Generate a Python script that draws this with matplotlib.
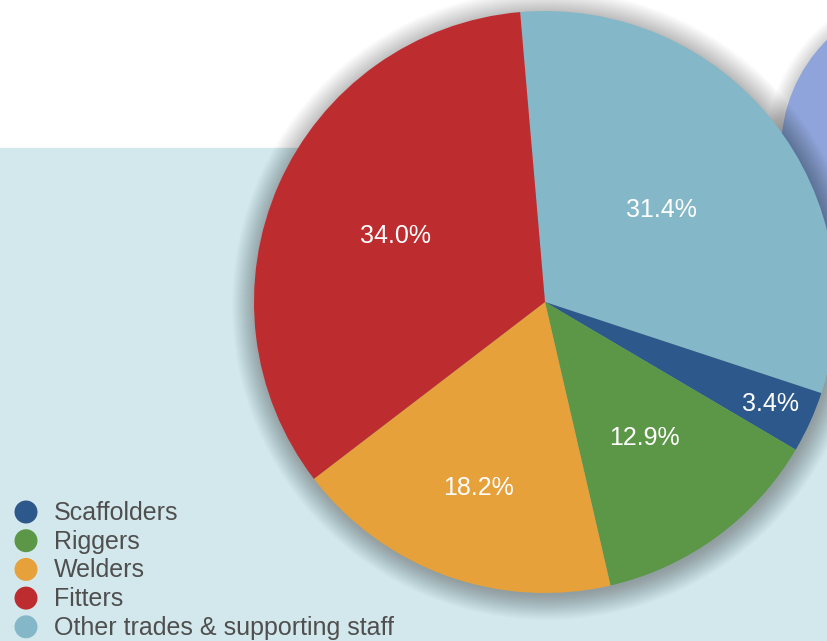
import numpy as np
import matplotlib.pyplot as plt
from matplotlib.patches import Circle, Rectangle

labels = ["Other trades & supporting staff", "Scaffolders", "Riggers", "Welders", "Fitters"]
shares = [31.4, 3.4, 12.9, 18.2, 34.0]
colors = ["#84b8c9", "#2d588b", "#5c9748", "#e6a13b", "#bd2d30"]
label_dist = [0.51, 0.85, 0.58, 0.68, 0.56]

legend_order = ["Scaffolders", "Riggers", "Welders", "Fitters", "Other trades & supporting staff"]

W, H = 828, 641
fig = plt.figure(figsize=(W / 100, H / 100), dpi=100)
ax = fig.add_axes([0, 0, 1, 1])

# light panel behind the chart
ax.add_patch(Rectangle((0, 0), W, H - 148, color="#d3e8ec", zorder=0))

# second pie peeking in at the top right
cx2, cy2, r2 = 936, H - 150, 155
for k in range(14):
    ax.add_patch(Circle((cx2 - 2, cy2 - 2), r2 + 14 - k, color="#000000", alpha=0.012, lw=0, zorder=1))
ax.add_patch(Circle((cx2, cy2), r2, color="#8fa4da", lw=0, zorder=2))

# main pie with soft shadow
cx, cy, R = 545, H - 302, 291
for k in range(26):
    ax.add_patch(Circle((cx + 2, cy - 3), R + 24 - k, color="#000000", alpha=0.013, lw=0, zorder=3))

start = 94.9
wedges, _ = ax.pie(shares, colors=colors, startangle=start, counterclock=False,
                   center=(cx, cy), radius=R, wedgeprops=dict(linewidth=0), frame=True)
for w in wedges:
    w.set_zorder(4)
ax.set_xlim(0, W)
ax.set_ylim(0, H)
ax.set_aspect("equal")
ax.axis("off")

total = sum(shares)
ang = start
for val, d in zip(shares, label_dist):
    span = val / total * 360
    mid = np.deg2rad(ang - span / 2)
    ang -= span
    ax.text(cx + d * R * np.cos(mid), cy + d * R * np.sin(mid), f"{val:.1f}%",
            color="white", fontsize=18, ha="center", va="center",
            family="Liberation Sans", zorder=5)

# legend
color_of = dict(zip(labels, colors))
for i, name in enumerate(legend_order):
    y = H - 512 - i * 28.7
    ax.add_patch(Circle((26, y), 11.5, color=color_of[name], lw=0, zorder=5))
    ax.text(54, y - 1, name, color="#4f4f4f", fontsize=18, ha="left", va="center",
            family="Liberation Sans", zorder=5)

fig.savefig("out.png", dpi=100)
